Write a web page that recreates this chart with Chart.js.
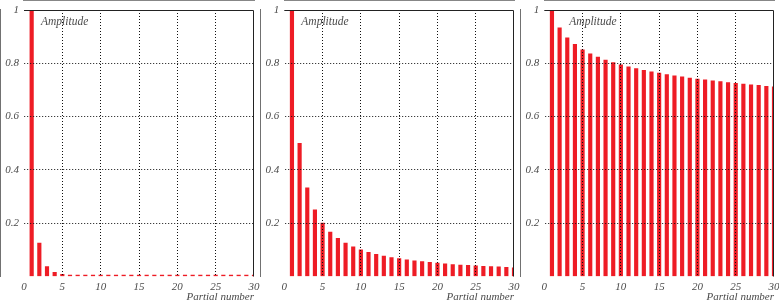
<!DOCTYPE html>
<html>
<head>
<meta charset="utf-8">
<script src="https://cdn.jsdelivr.net/npm/chart.js@4/dist/chart.umd.min.js"></script>
<style>
  html, body { margin: 0; padding: 0; background: #fff; }
  #wrap { position: relative; width: 779px; height: 303px; }
  canvas { position: absolute; top: 0; }
</style>
</head>
<body>
<div id="wrap">
  <canvas id="c1" width="260" height="303" style="left:0px"></canvas>
  <canvas id="c2" width="260" height="303" style="left:260px"></canvas>
  <canvas id="c3" width="259" height="303" style="left:520px"></canvas>
</div>
<script>
  'use strict';

  // Partial numbers 1..30
  var partials = [1, 2, 3, 4, 5, 6, 7, 8, 9, 10, 11, 12, 13, 14, 15,
    16, 17, 18, 19, 20, 21, 22, 23, 24, 25, 26, 27, 28, 29, 30];

  // Left panel: amplitudes drop off very fast
  var ampFast = [1, 0.125, 0.037, 0.0156, 0.008, 0.0046, 0.0029, 0.002, 0.0014, 0.001,
    0.00075, 0.00058, 0.00046, 0.00036, 0.0003, 0.00024, 0.0002, 0.00017, 0.00015, 0.000125,
    0.00011, 0.000094, 0.000082, 0.000072, 0.000064, 0.000057, 0.000051, 0.000046, 0.000041, 0.000037];

  // Middle panel
  var ampMedium = [1, 0.5, 0.333, 0.25, 0.2, 0.167, 0.143, 0.125, 0.111, 0.1,
    0.091, 0.083, 0.077, 0.071, 0.067, 0.0625, 0.059, 0.056, 0.053, 0.05,
    0.048, 0.045, 0.043, 0.042, 0.04, 0.038, 0.037, 0.036, 0.034, 0.033];

  // Right panel: amplitudes fall slowly
  var ampSlow = [1, 0.933, 0.896, 0.871, 0.851, 0.836, 0.823, 0.812, 0.803, 0.794,
    0.787, 0.78, 0.774, 0.768, 0.763, 0.758, 0.753, 0.749, 0.745, 0.741,
    0.738, 0.734, 0.731, 0.728, 0.725, 0.722, 0.719, 0.717, 0.714, 0.712];

  var xTitle = 'Partial number';
  var yLabel = 'Amplitude';

  var textColor = '#4a4a4a';
  var barColor = '#ee1c25';
  var fontFamily = '"Liberation Serif", "DejaVu Serif", serif';

  // Draws the top/right frame and the "Amplitude" label inside the plot.
  var framePlugin = {
    id: 'frame',
    afterDraw: function (chart, args, opts) {
      var ctx = chart.ctx;
      var a = chart.chartArea;
      ctx.save();
      ctx.strokeStyle = '#222';
      ctx.lineWidth = 1;
      ctx.beginPath();
      ctx.moveTo(a.left, a.top + 0.5);
      ctx.lineTo(a.right - 0.5, a.top + 0.5);
      ctx.lineTo(a.right - 0.5, a.bottom);
      ctx.stroke();
      ctx.font = 'italic 11.5px ' + fontFamily;
      ctx.fillStyle = textColor;
      ctx.textBaseline = 'middle';
      ctx.textAlign = 'left';
      ctx.fillText(yLabel, a.left + opts.labelOffset, a.top + 12);
      ctx.restore();
    }
  };

  function makeChart(id, values, opts) {
    var ctx = document.getElementById(id).getContext('2d');
    var points = partials.map(function (p, i) { return { x: p, y: values[i] }; });
    return new Chart(ctx, {
      type: 'bar',
      data: {
        datasets: [{
          data: points,
          backgroundColor: barColor,
          borderWidth: 0,
          barThickness: 3.5,
          minBarLength: opts.minBar || 0
        }]
      },
      plugins: [framePlugin],
      options: {
        responsive: false,
        animation: false,
        layout: { padding: { top: 10, right: opts.padRight, bottom: 0, left: 0 } },
        plugins: {
          legend: { display: false },
          tooltip: { enabled: false },
          frame: { labelOffset: opts.labelOffset }
        },
        scales: {
          x: {
            type: 'linear',
            min: 0,
            max: 30,
            offset: false,
            afterFit: function (scale) {
              scale.height = 26.5;
              scale.paddingLeft = 0;
              scale.paddingRight = 0;
            },
            ticks: {
              stepSize: 5,
              padding: 4,
              color: textColor,
              font: { family: fontFamily, size: 11, style: 'italic' },
              maxRotation: 0
            },
            grid: {
              z: 1,
              offset: false,
              drawTicks: false,
              color: function (c) {
                return (c.tick && (c.tick.value === 0 || c.tick.value === 30)) ? 'rgba(0,0,0,0)' : '#111';
              },
              lineWidth: 1
            },
            border: { color: '#111', width: 1.2, dash: [1, 2] },
            title: {
              display: true,
              text: xTitle,
              align: 'end',
              color: textColor,
              padding: { top: 0, bottom: 0 },
              font: { family: fontFamily, size: 11, style: 'italic', lineHeight: 1 }
            }
          },
          y: {
            min: 0,
            max: 1,
            afterFit: function (scale) {
              scale.width = opts.yWidth;
              scale.paddingTop = 0;
              scale.paddingBottom = 0;
            },
            ticks: {
              stepSize: 0.2,
              padding: 5,
              color: textColor,
              font: { family: fontFamily, size: 11, style: 'italic' },
              callback: function (v) { return v === 0 ? '' : String(Math.round(v * 10) / 10); }
            },
            grid: {
              z: 1,
              drawTicks: false,
              color: function (c) {
                return (c.tick && (c.tick.value === 0 || c.tick.value === 1)) ? 'rgba(0,0,0,0)' : '#111';
              },
              lineWidth: 1
            },
            border: { color: '#111', width: 1.2, dash: [1, 2] }
          }
        }
      }
    });
  }

  makeChart('c1', ampFast, { yWidth: 24, padRight: 6, labelOffset: 17, minBar: 1.5 });
  makeChart('c2', ampMedium, { yWidth: 24.3, padRight: 6, labelOffset: 17 });
  makeChart('c3', ampSlow, { yWidth: 24.3, padRight: 5, labelOffset: 25 });
</script>
</body>
</html>
